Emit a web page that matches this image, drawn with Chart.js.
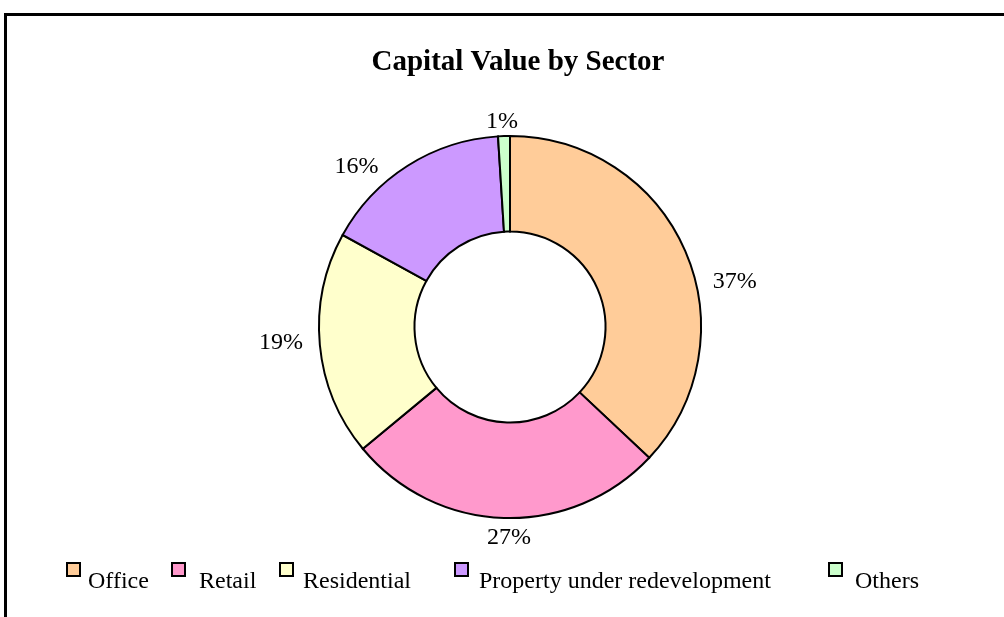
<!DOCTYPE html>
<html>
<head>
<meta charset="utf-8">
<script src="https://cdn.jsdelivr.net/npm/chart.js@4/dist/chart.umd.min.js"></script>
<style>
  html, body { margin: 0; padding: 0; background: #ffffff; }
  #wrap { position: relative; width: 1004px; height: 617px; }
  canvas { display: block; }
</style>
</head>
<body>
<div id="wrap"><canvas id="c" width="1004" height="617"></canvas></div>
<script>
const chartTitle = 'Capital Value by Sector';
const categories = ['Office', 'Retail', 'Residential', 'Property under redevelopment', 'Others'];
const shares = [37, 27, 19, 16, 1];
const percentLabels = ['37%', '27%', '19%', '16%', '1%'];
const sliceColors = ['#FFCC99', '#FF99CC', '#FFFFCC', '#CC99FF', '#CCFFCC'];

const SERIF = '"Liberation Serif", "Times New Roman", Times, serif';

const decorPlugin = {
  id: 'decor',
  beforeDraw(chart) {
    const ctx = chart.ctx;
    ctx.save();
    ctx.fillStyle = '#ffffff';
    ctx.fillRect(0, 0, chart.width, chart.height);
    ctx.restore();
  },
  afterDraw(chart, args, opts) {
    const ctx = chart.ctx;
    ctx.save();
    // frame
    ctx.fillStyle = '#000';
    ctx.fillRect(opts.frame.x, opts.frame.y, chart.width, opts.frame.w);
    ctx.fillRect(opts.frame.x, opts.frame.y, opts.frame.w, chart.height);

    // title
    ctx.font = 'bold 29px ' + SERIF;
    ctx.textAlign = 'center';
    ctx.textBaseline = 'alphabetic';
    ctx.fillText(chartTitle, opts.titleX, opts.titleY);

    // percentage labels outside the ring
    const meta = chart.getDatasetMeta(0);
    ctx.font = '24px ' + SERIF;
    ctx.textBaseline = 'middle';
    meta.data.forEach((arc, i) => {
      const p = arc.getProps(['x', 'y', 'startAngle', 'endAngle', 'outerRadius'], true);
      const mid = (p.startAngle + p.endAngle) / 2;
      const r = p.outerRadius + opts.labelGap;
      const off = opts.labelOffsets[i] || [0, 0];
      const lx = p.x + Math.cos(mid) * r + off[0];
      const ly = p.y + Math.sin(mid) * r + off[1];
      ctx.fillText(percentLabels[i], lx, ly);
    });

    // legend
    ctx.font = '24px ' + SERIF;
    ctx.textAlign = 'left';
    ctx.textBaseline = 'alphabetic';
    categories.forEach((name, i) => {
      const it = opts.legendItems[i];
      ctx.fillStyle = sliceColors[i];
      ctx.fillRect(it.box, opts.legendBoxY, 13, 13);
      ctx.strokeStyle = '#000';
      ctx.lineWidth = 2;
      ctx.strokeRect(it.box, opts.legendBoxY, 13, 13);
      ctx.fillStyle = '#000';
      ctx.fillText(name, it.text, opts.legendTextY);
    });
    ctx.restore();
  }
};

new Chart(document.getElementById('c'), {
  type: 'doughnut',
  data: {
    labels: categories,
    datasets: [{
      data: shares,
      backgroundColor: sliceColors,
      borderColor: '#000000',
      borderWidth: 2,
      borderJoinStyle: 'miter'
    }]
  },
  options: {
    responsive: false,
    devicePixelRatio: 1,
    animation: false,
    cutout: '50%',
    layout: { padding: { left: 318, right: 302, top: 135, bottom: 98 } },
    plugins: {
      legend: { display: false },
      tooltip: { enabled: false },
      title: { display: false },
      decor: {
        frame: { x: 4, y: 13, w: 3 },
        titleX: 518,
        titleY: 70,
        labelGap: 30,
        labelOffsets: [[22, 42], [6, -10], [-9, -5], [-35, 26], [-1, 16]],
        legendBoxY: 563,
        legendTextY: 588,
        legendItems: [
          { box: 67, text: 88 },
          { box: 172, text: 199 },
          { box: 280, text: 303 },
          { box: 455, text: 479 },
          { box: 829, text: 855 }
        ]
      }
    }
  },
  plugins: [decorPlugin]
});
</script>
</body>
</html>
